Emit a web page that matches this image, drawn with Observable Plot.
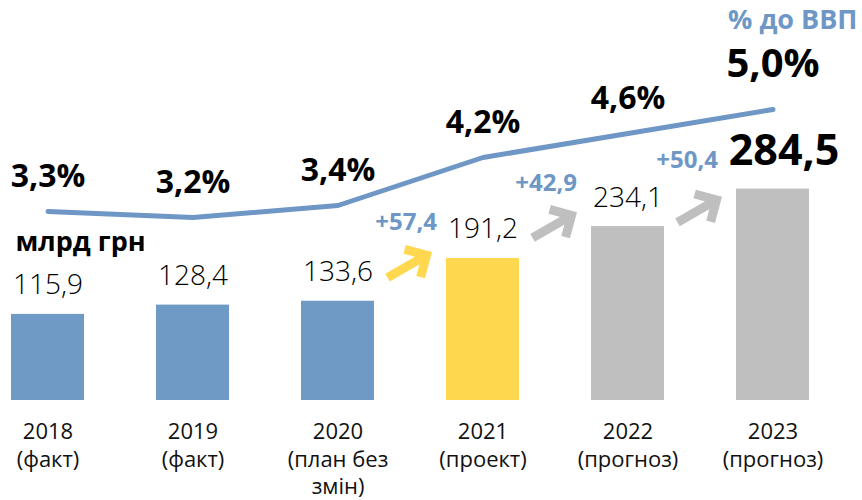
<!DOCTYPE html>
<html><head><meta charset="utf-8">
<script src="https://cdn.jsdelivr.net/npm/d3@7"></script>
<script src="https://cdn.jsdelivr.net/npm/@observablehq/plot@0.6"></script>
<style>
html,body{margin:0;padding:0;background:#fff;}
#chart{width:862px;height:500px;overflow:hidden;}
</style>
</head><body><div id="chart"></div>
<script>
// ---- data ----
const years = ["2018", "2019", "2020", "2021", "2022", "2023"];
const yearNotes = ["(факт)", "(факт)", "(план без\nзмін)", "(проект)", "(прогноз)", "(прогноз)"];
const spending = [115.9, 128.4, 133.6, 191.2, 234.1, 284.5];
const spendingLabels = ["115,9", "128,4", "133,6", "191,2", "234,1", "284,5"];
const pctGdp = [3.3, 3.2, 3.4, 4.2, 4.6, 5.0];
const pctLabels = ["3,3%", "3,2%", "3,4%", "4,2%", "4,6%", "5,0%"];
const status = ["fact", "fact", "fact", "project", "forecast", "forecast"];
const incrementLabels = ["", "", "", "+57,4", "+42,9", "+50,4"];
const unitLabel = "млрд грн";
const pctTitle = "% до ВВП";

// ---- styling / layout ----
const statusDomain = ["fact", "project", "forecast"];
const statusColors = ["#6f9ac6", "#ffd84f", "#bfbfbf"];
const lineColor = "#6e97c6";
const font = "'Open Sans', 'Noto Sans', sans-serif";
// layout offsets (pixels) for the increment labels and arrows, by year
const incOffset = {"2021": [-46, -28], "2022": [-51, -36], "2023": [-55, -21]};
const arrowDy = {"2021": 8, "2022": 0, "2023": 22};

const rows = years.map((year, i) => ({
  year, value: spending[i], label: spendingLabels[i], pct: pctGdp[i],
  pctLabel: pctLabels[i], status: status[i], inc: incrementLabels[i]
}));
const tickText = Object.fromEntries(years.map((y, i) => [y, y + "\n" + yearNotes[i]]));

// % of GDP drawn on the same y axis: 1 p.p. = 60px, 0% sits 9px below the bar baseline
const yMax = 538.4; // bar units spanning 400px
const pxPerUnit = 400 / yMax;
const pctToY = v => (60 * v - 9) / pxPerUnit;

const last = rows[rows.length - 1];
const firsts = rows.slice(0, -1);

const arrowShape = {
  draw(context, l) {
    const w = 16;
    context.moveTo(0, 0);
    context.lineTo(0, -l + 2);
    context.moveTo(-w, -l + w);
    context.lineTo(0, -l);
    context.lineTo(w, -l + w);
  }
};

const marks = [
  Plot.barY(rows, {x: "year", y: "value", fill: "status"}),
  Plot.line(rows, {x: "year", y: d => pctToY(d.pct), stroke: lineColor, strokeWidth: 5, strokeLinecap: "round", strokeLinejoin: "round"}),
  // bar value labels
  Plot.text(firsts, {x: "year", y: "value", text: "label", dy: -20, lineAnchor: "bottom", fontSize: 28, fontWeight: 300, fill: "#000"}),
  Plot.text([last], {x: "year", y: "value", text: "label", dx: 11, dy: -24, lineAnchor: "bottom", fontSize: 43, fontWeight: 700, fill: "#000"}),
  // % of GDP labels
  Plot.text(firsts, {x: "year", y: d => pctToY(d.pct), text: "pctLabel", dy: -25, lineAnchor: "bottom", fontSize: 32, fontWeight: 700, fill: "#000"}),
  Plot.text([last], {x: "year", y: d => pctToY(d.pct), text: "pctLabel", dy: -33, lineAnchor: "bottom", fontSize: 40, fontWeight: 700, fill: "#000"}),
  // increments and arrows
  ...rows.filter(d => d.inc).map(d => Plot.text([d], {x: "year", y: "value", text: "inc", textAnchor: "end", lineAnchor: "bottom", dx: incOffset[d.year][0], dy: incOffset[d.year][1], fontSize: 24, fontWeight: 700, fill: lineColor})),
  ...rows.filter(d => d.inc).map(d => Plot.vector([d], {x: "year", y: "value", dx: -76, dy: arrowDy[d.year], length: 45, rotate: 60, anchor: "middle", shape: arrowShape, stroke: "status", strokeWidth: 9, strokeLinejoin: "miter", strokeLinecap: "butt"})),
  // titles
  Plot.text([unitLabel], {frameAnchor: "top-left", textAnchor: "start", lineAnchor: "top", dx: 15, dy: 231, fontSize: 27, fontWeight: 700, fill: "#000"}),
  Plot.text([pctTitle], {frameAnchor: "top-right", textAnchor: "end", lineAnchor: "top", dx: -5, dy: 9, fontSize: 27, fontWeight: 700, fill: lineColor}),
  Plot.axisX({tickSize: 0, tickPadding: 19, fontSize: 22, lineHeight: 1.25, tickFormat: d => tickText[d], fill: "#111"})
];

const chart = Plot.plot({
  width: 862, height: 500,
  marginTop: 0, marginBottom: 100, marginLeft: 0, marginRight: 0,
  style: {fontFamily: font, background: "#fff", overflow: "visible"},
  x: {type: "band", domain: years, range: [-26.5, 845.9], paddingInner: 0.5, paddingOuter: 0.25, label: null},
  y: {domain: [0, yMax], axis: null},
  color: {domain: statusDomain, range: statusColors},
  marks
});
document.getElementById("chart").appendChild(chart);
</script>
</body></html>
